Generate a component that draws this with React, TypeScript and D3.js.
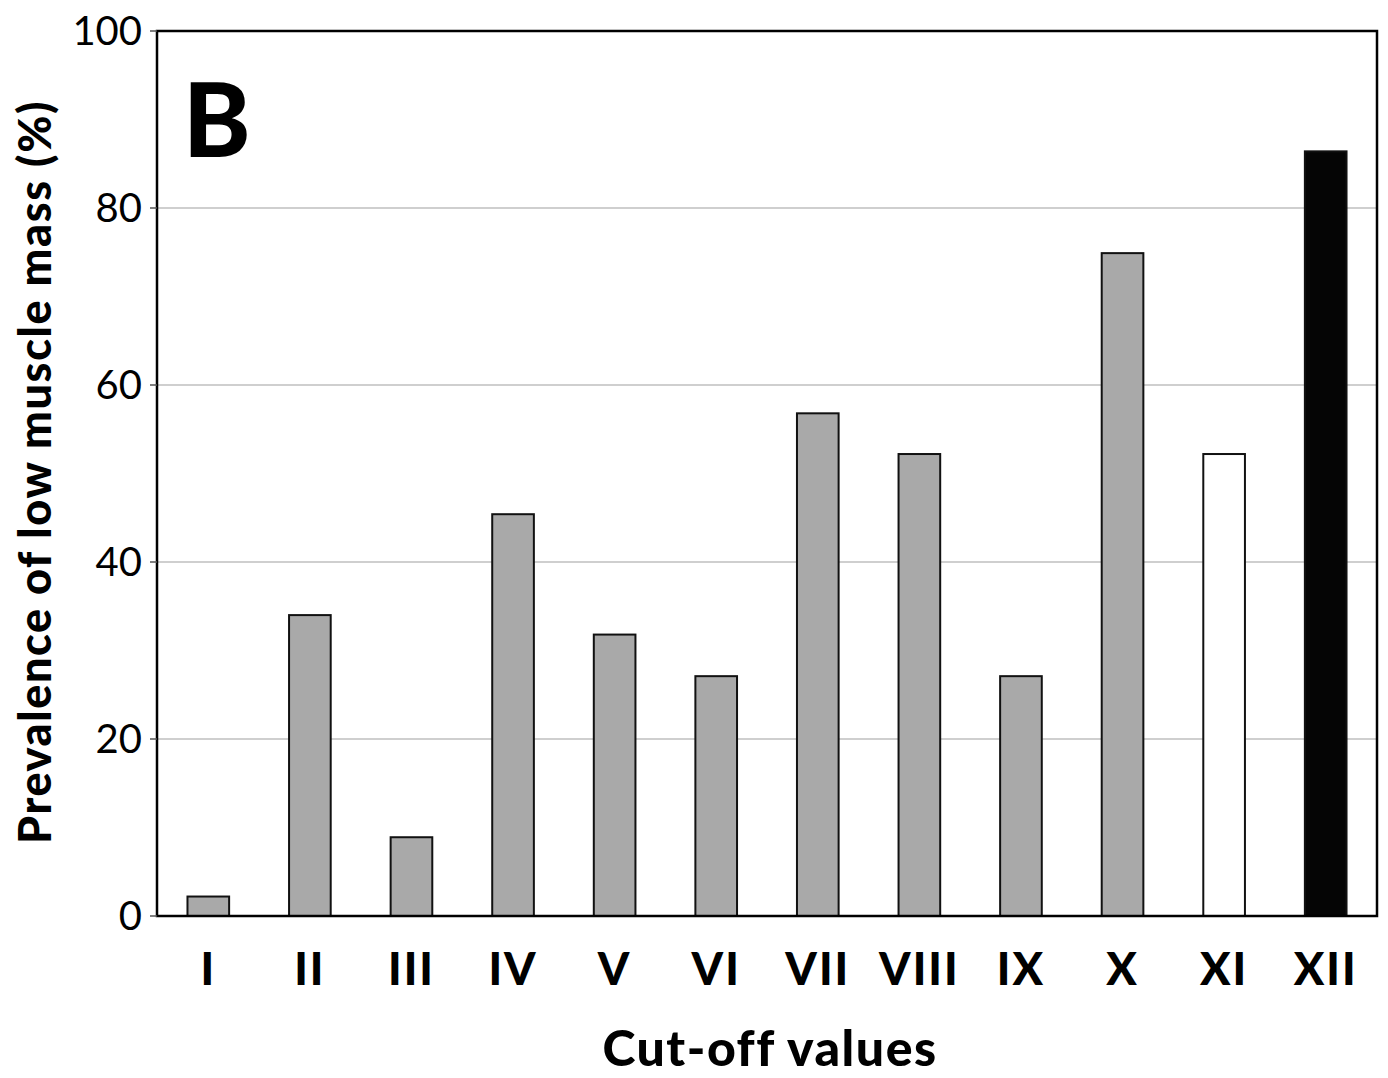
import React, { useEffect, useRef } from 'react';
import * as d3 from 'd3';

const categories = ['I', 'II', 'III', 'IV', 'V', 'VI', 'VII', 'VIII', 'IX', 'X', 'XI', 'XII'];
const prevalence = [2.2, 34.0, 8.9, 45.4, 31.8, 27.1, 56.8, 52.2, 27.1, 74.9, 52.2, 86.4];
const barFills = ['#a9a9a9', '#a9a9a9', '#a9a9a9', '#a9a9a9', '#a9a9a9', '#a9a9a9', '#a9a9a9', '#a9a9a9', '#a9a9a9', '#a9a9a9', '#ffffff', '#050505'];
const yTicks = [0, 20, 40, 60, 80, 100];

const App = () => {
    const chartRef = useRef<SVGSVGElement>(null);

    useEffect(() => {
        const svg = d3.select(chartRef.current);
        svg.selectAll('*').remove();

        const width = 1388;
        const height = 1078;
        const left = 157, right = 1377, top = 31, bottom = 916;
        const font = 'Lato, "Open Sans", sans-serif';

        svg.attr('width', width).attr('height', height);

        const x = d3.scaleBand().domain(categories).range([left, right]).paddingInner(0.59).paddingOuter(0.3);
        const y = d3.scaleLinear().domain([0, 100]).range([bottom, top]);

        // gridlines
        svg.append('g')
           .selectAll('line')
           .data(yTicks.filter(t => t > 0 && t < 100))
           .enter().append('line')
           .attr('x1', left).attr('x2', right)
           .attr('y1', d => y(d)).attr('y2', d => y(d))
           .attr('stroke', '#a0a0a0').attr('stroke-width', 1.2);

        // bars
        svg.append('g')
           .selectAll('rect')
           .data(prevalence)
           .enter().append('rect')
           .attr('x', (d, i) => x(categories[i])!)
           .attr('y', d => y(d))
           .attr('width', x.bandwidth())
           .attr('height', d => y(0) - y(d))
           .attr('fill', (d, i) => barFills[i])
           .attr('stroke', '#111')
           .attr('stroke-width', 2);

        // frame
        svg.append('rect')
           .attr('x', left).attr('y', top)
           .attr('width', right - left).attr('height', bottom - top)
           .attr('fill', 'none').attr('stroke', '#000').attr('stroke-width', 2.5);

        // y ticks
        const yAxis = svg.append('g');
        yAxis.selectAll('line')
           .data(yTicks)
           .enter().append('line')
           .attr('x1', left - 7).attr('x2', left)
           .attr('y1', d => y(d)).attr('y2', d => y(d))
           .attr('stroke', '#555').attr('stroke-width', 1.5);
        yAxis.selectAll('text')
           .data(yTicks)
           .enter().append('text')
           .attr('x', 142)
           .attr('y', d => y(d) + 14)
           .attr('text-anchor', 'end')
           .style('font-family', font)
           .style('font-size', '40px')
           .text(d => d);

        // x labels
        svg.append('g')
           .selectAll('text')
           .data(categories)
           .enter().append('text')
           .attr('x', d => x(d)! + x.bandwidth() / 2)
           .attr('y', 985)
           .attr('text-anchor', 'middle')
           .style('font-family', font)
           .style('font-weight', 900)
           .style('font-size', '45px')
           .style('letter-spacing', '2px')
           .text(d => d);

        svg.append('text')
           .attr('x', 770).attr('y', 1066)
           .attr('text-anchor', 'middle')
           .style('font-family', font)
           .style('font-weight', 900)
           .style('font-size', '50px')
           .style('letter-spacing', '1.5px')
           .text('Cut-off values');

        svg.append('text')
           .attr('transform', 'translate(51, 472) rotate(-90)')
           .attr('text-anchor', 'middle')
           .style('font-family', font)
           .style('font-weight', 900)
           .style('font-size', '45px')
           .style('letter-spacing', '1.6px')
           .text('Prevalence of low muscle mass (%)');

        svg.append('text')
           .attr('x', 183).attr('y', 157)
           .style('font-family', font)
           .style('font-weight', 900)
           .style('font-size', '102px')
           .text('B');
    }, []);

    return <svg ref={chartRef} style={{ position: 'absolute', left: 0, top: 0 }}></svg>;
};

export default App;
